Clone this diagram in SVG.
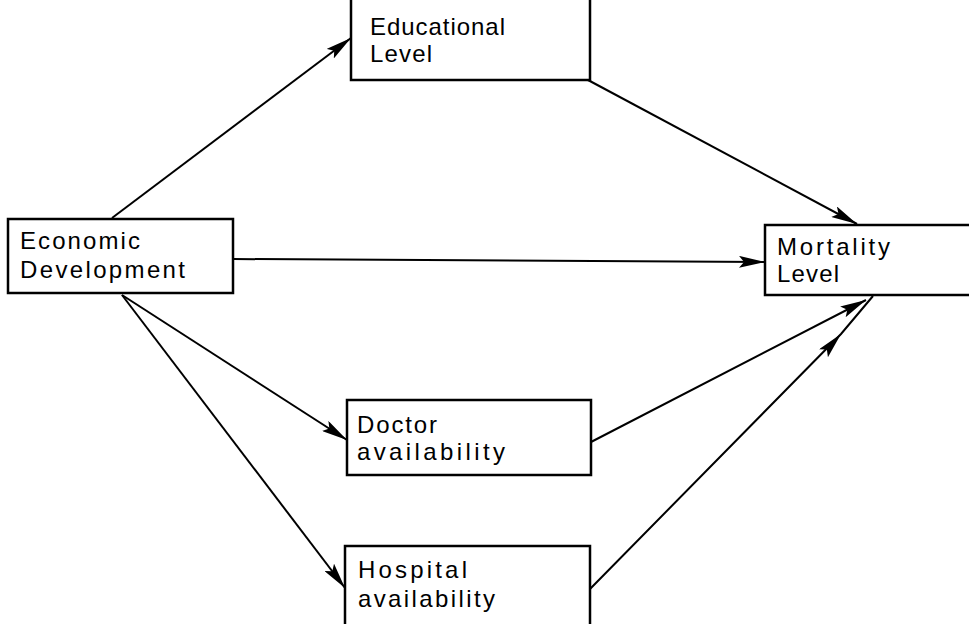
<svg xmlns="http://www.w3.org/2000/svg" width="969" height="624" viewBox="0 0 969 624">
<style>
.box{fill:#fff;stroke:#000;stroke-width:2.5}
.lbl{font-family:"Liberation Sans",Arial,sans-serif;font-size:24px;fill:#000}
.edge{fill:none;stroke:#000;stroke-width:2}
</style>
<defs>
<marker id="ah" viewBox="0 0 26 12" refX="26" refY="6" markerWidth="26" markerHeight="12" markerUnits="userSpaceOnUse" orient="auto">
<path d="M0,0 L26,6 L0,12 L5,6 Z" fill="#000"/>
</marker>
</defs>
<rect width="969" height="624" fill="#fff"/>
<g id="connectors">
<line class="edge" x1="112" y1="218" x2="351" y2="38" marker-end="url(#ah)"/>
<line class="edge" x1="233" y1="259" x2="765" y2="262" marker-end="url(#ah)"/>
<line class="edge" x1="588" y1="80" x2="857" y2="224" marker-end="url(#ah)"/>
<line class="edge" x1="122" y1="295" x2="347" y2="440" marker-end="url(#ah)"/>
<line class="edge" x1="122" y1="295" x2="345" y2="588" marker-end="url(#ah)"/>
<line class="edge" x1="591" y1="442" x2="866" y2="300" marker-end="url(#ah)"/>
<polyline class="edge" points="590,589 841,334 873,296" marker-mid="url(#ah)"/>
</g>
<g id="educational">
<rect class="box" x="351" y="-10" width="239" height="90"/>
<text class="lbl" x="370" y="35" textLength="135" lengthAdjust="spacing">Educational</text>
<text class="lbl" x="370" y="62" textLength="62" lengthAdjust="spacing">Level</text>
</g>
<g id="economic">
<rect class="box" x="8" y="219" width="225" height="74"/>
<text class="lbl" x="20" y="249" textLength="120" lengthAdjust="spacing">Economic</text>
<text class="lbl" x="20" y="278" textLength="165" lengthAdjust="spacing">Development</text>
</g>
<g id="mortality">
<rect class="box" x="765" y="225" width="220" height="70"/>
<text class="lbl" x="777" y="255" textLength="113" lengthAdjust="spacing">Mortality</text>
<text class="lbl" x="777" y="282" textLength="62" lengthAdjust="spacing">Level</text>
</g>
<g id="doctor">
<rect class="box" x="347" y="400" width="244" height="75"/>
<text class="lbl" x="357" y="433" textLength="80" lengthAdjust="spacing">Doctor</text>
<text class="lbl" x="357" y="460" textLength="148" lengthAdjust="spacing">availability</text>
</g>
<g id="hospital">
<rect class="box" x="345" y="546" width="245" height="100"/>
<text class="lbl" x="358" y="578" textLength="109" lengthAdjust="spacing">Hospital</text>
<text class="lbl" x="358" y="607" textLength="137" lengthAdjust="spacing">availability</text>
</g>
</svg>
